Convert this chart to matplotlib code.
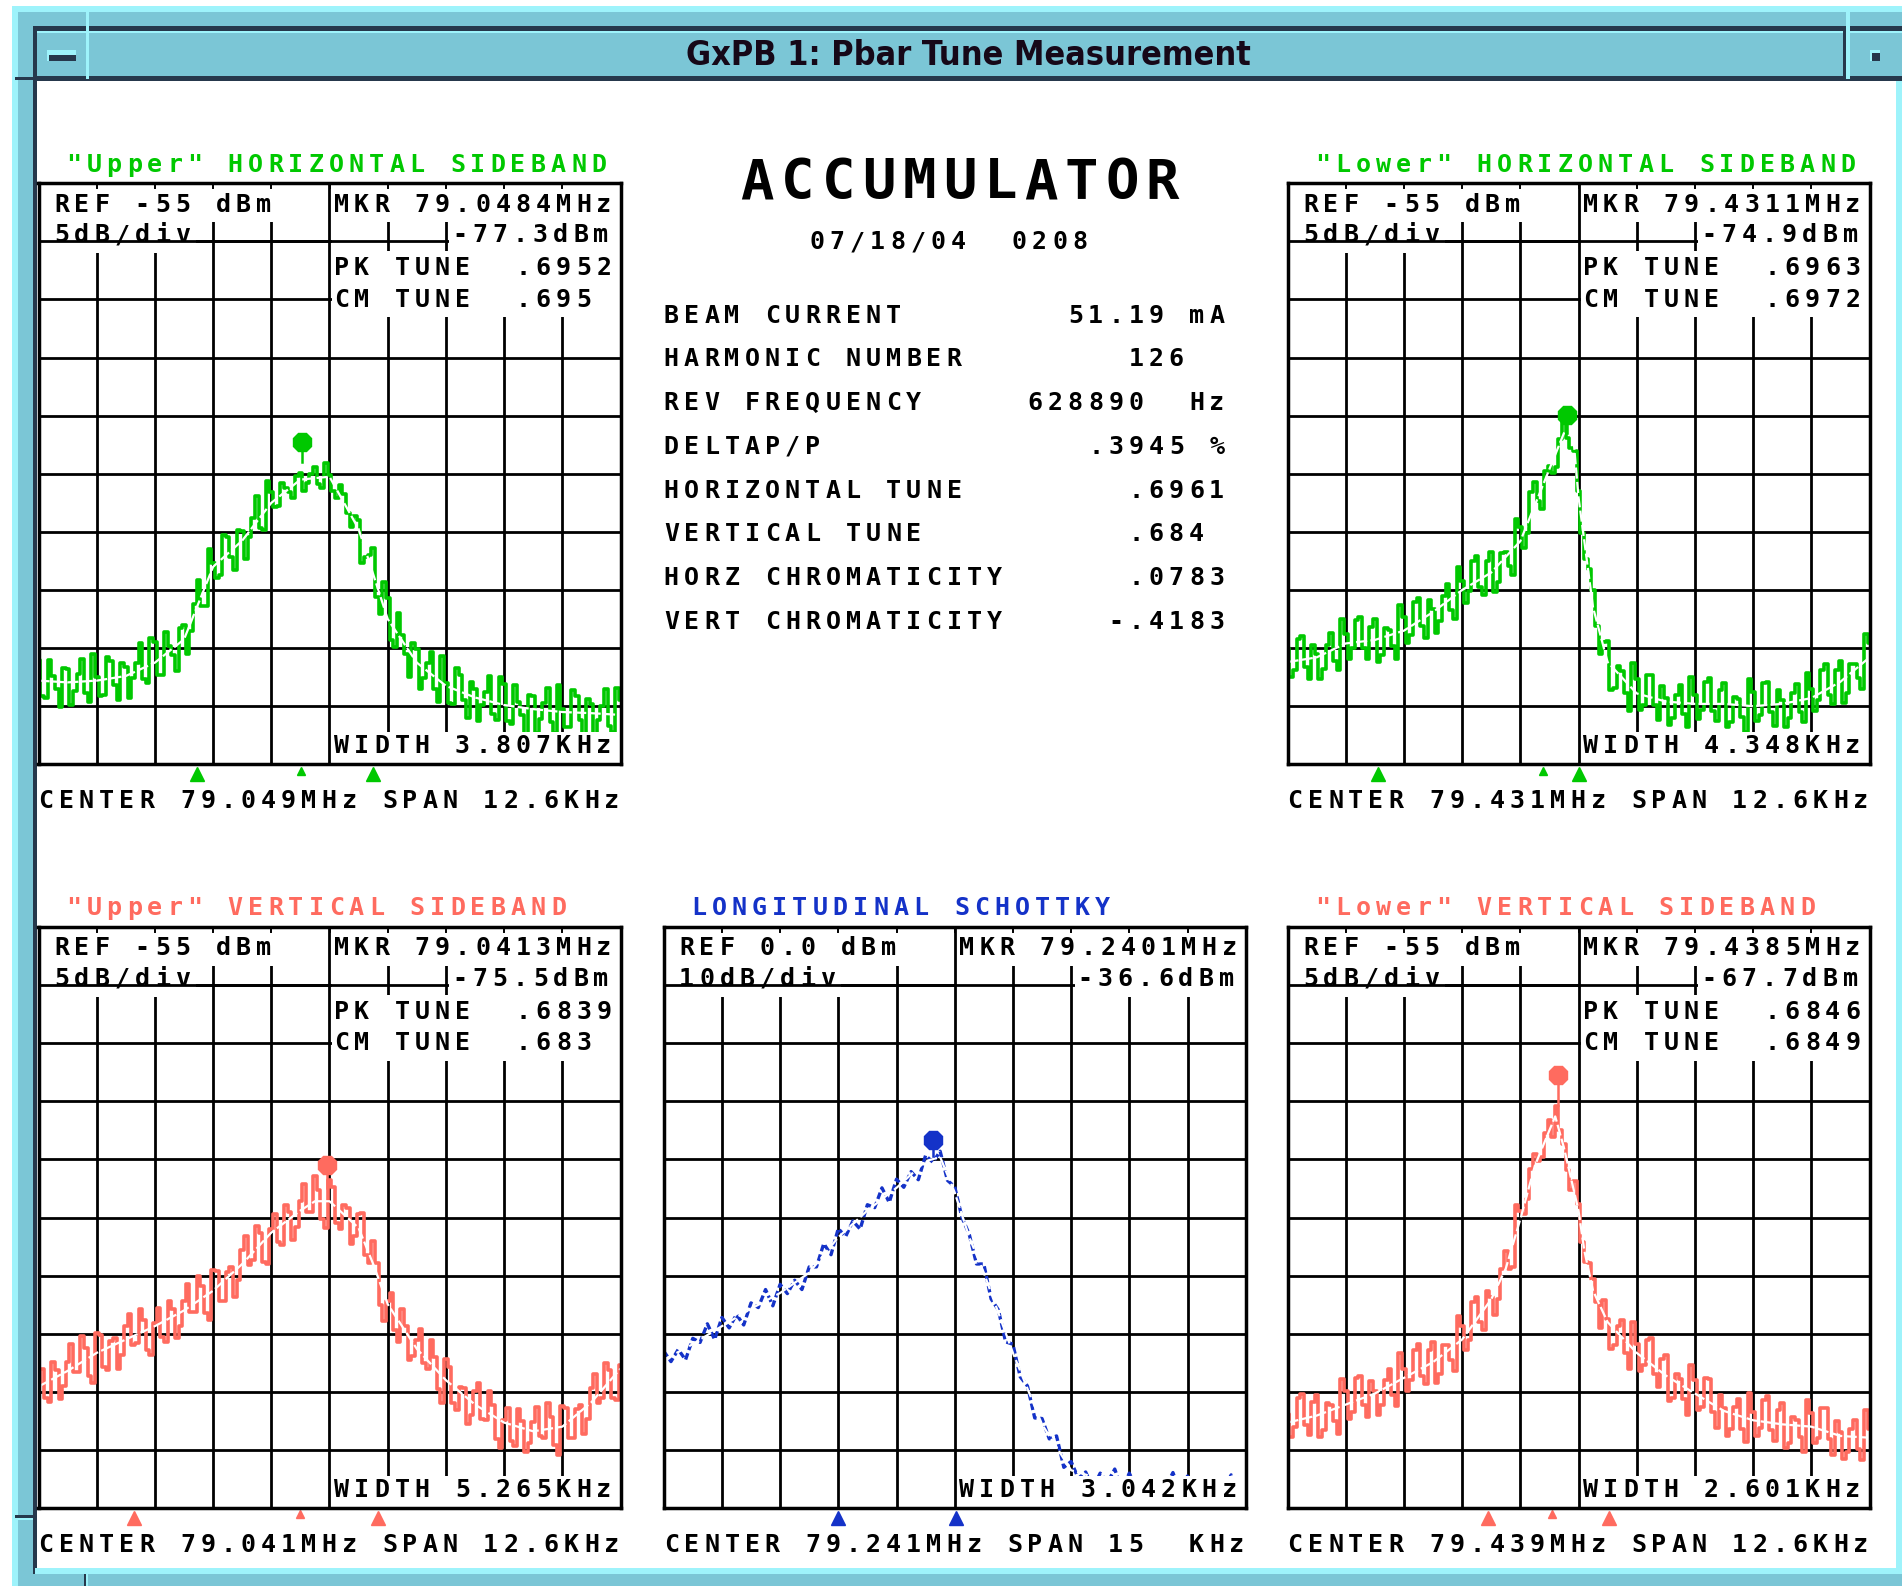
import numpy as np
import matplotlib.pyplot as plt
import matplotlib.transforms as mtransforms
from matplotlib.patches import Rectangle

W, H = 1902, 1586

# colours of the screen capture
GREEN = '#00c800'
SALMON = '#ff6b5f'
BLUE = '#1432c8'
TEAL = '#7bc6d6'
CYAN = '#9ef3fb'
NAVY = '#26384c'

# ---------------- data ----------------
names = ['uh', 'lh', 'uv', 'long', 'lv']
titles = ['"Upper" HORIZONTAL SIDEBAND', '"Lower" HORIZONTAL SIDEBAND',
          '"Upper" VERTICAL SIDEBAND', 'LONGITUDINAL SCHOTTKY',
          '"Lower" VERTICAL SIDEBAND']
colors = [GREEN, GREEN, SALMON, BLUE, SALMON]
ref_levels = [-55.0, -55.0, -55.0, 0.0, -55.0]     # dBm at top line
db_per_div = [5, 5, 5, 10, 5]
spans = [12.6, 12.6, 12.6, 15.0, 12.6]             # kHz
ref_text = ['REF -55 dBm', 'REF -55 dBm', 'REF -55 dBm', 'REF 0.0 dBm', 'REF -55 dBm']
div_text = ['5dB/div', '5dB/div', '5dB/div', '10dB/div', '5dB/div']
mkr_text = ['MKR 79.0484MHz', 'MKR 79.4311MHz', 'MKR 79.0413MHz',
            'MKR 79.2401MHz', 'MKR 79.4385MHz']
mkr_level = [-77.3, -74.9, -75.5, -36.6, -67.7]
mkr_level_text = ['-77.3dBm', '-74.9dBm', '-75.5dBm', '-36.6dBm', '-67.7dBm']
mkr_offset = [-0.6, -0.24, -0.05, -0.55, -0.45]    # kHz from centre (as drawn)
stem_bottom = [-79.0, -76.5, -77.5, -39.5, -70.3]
pk_tune = ['.6952', '.6963', '.6839', None, '.6846']
cm_tune = ['.695', '.6972', '.683', None, '.6849']
width_text = ['WIDTH 3.807KHz', 'WIDTH 4.348KHz', 'WIDTH 5.265KHz',
              'WIDTH 3.042KHz', 'WIDTH 2.601KHz']
center_text = ['CENTER 79.049MHz SPAN 12.6KHz', 'CENTER 79.431MHz SPAN 12.6KHz',
               'CENTER 79.041MHz SPAN 12.6KHz', 'CENTER 79.241MHz SPAN 15  KHz',
               'CENTER 79.439MHz SPAN 12.6KHz']
# triangles under the graticule (kHz from centre)
half_power = [[-2.87, 0.94], [-4.33, 0.02], [-4.23, 1.04], [-3.0, 0.04], [-1.95, 0.65]]
small_tri = [[-0.62], [-0.76], [-0.64], [], [-0.58]]

# raw analyzer sweeps across the span (dBm)
trace_uh = [
    -96.0, -99.1, -99.3, -96.0, -97.4, -98.5, -100.1, -96.7, -96.8, -99.9, -98.7, -97.2, -95.9, -98.9, -99.6, -95.5,
    -97.5, -99.1, -99.0, -95.8, -96.1, -98.2, -99.5, -96.3, -96.6, -99.3, -97.6, -96.3, -94.6, -97.7, -98.0, -94.1,
    -94.5, -97.3, -97.3, -93.6, -94.8, -95.6, -97.0, -93.3, -93.0, -95.5, -93.5, -91.2, -89.1, -91.4, -91.4, -86.5,
    -87.7, -89.0, -88.7, -85.3, -85.4, -87.2, -88.3, -84.8, -84.9, -87.3, -85.4, -83.8, -81.9, -84.7, -84.8, -80.6,
    -81.6, -82.9, -82.8, -80.8, -81.2, -81.6, -82.1, -80.2, -79.9, -81.5, -80.8, -80.0, -79.4, -80.9, -81.2, -79.1,
    -80.1, -81.5, -82.1, -81.0, -81.7, -83.4, -84.6, -83.6, -84.0, -87.7, -87.2, -87.0, -86.4, -90.6, -92.1, -89.3,
    -90.7, -94.3, -94.9, -92.0, -93.9, -95.5, -97.5, -94.6, -95.1, -98.5, -97.6, -96.3, -95.3, -98.5, -99.6, -95.7,
    -98.0, -99.7, -99.8, -96.7, -97.3, -99.5, -101.0, -97.9, -98.5, -101.3, -99.9, -98.8, -97.4, -100.7, -101.2, -97.5,
    -98.1, -101.3, -101.5, -98.2, -99.6, -100.8, -102.4, -99.0, -99.1, -102.3, -101.1, -99.7, -98.4, -101.4, -102.3, -98.2,
    -100.2, -101.8, -101.8, -98.6, -99.1, -101.2, -102.6, -99.4, -99.8, -102.6, -101.2, -100.0, -98.5, -101.7, -102.2, -98.4,
    -99.5]
trace_lh = [
    -95.0, -97.5, -96.9, -94.2, -94.0, -96.6, -97.7, -94.7, -95.5, -97.7, -96.8, -94.7, -93.7, -96.1, -96.9, -92.5,
    -93.8, -95.9, -95.0, -92.6, -92.3, -95.0, -95.9, -93.2, -92.5, -96.2, -95.6, -93.3, -93.4, -94.8, -95.9, -91.3,
    -92.3, -94.6, -93.9, -91.0, -90.7, -93.1, -94.1, -90.9, -91.6, -93.7, -92.7, -90.5, -89.5, -91.7, -92.5, -88.0,
    -89.2, -91.1, -90.1, -87.5, -87.1, -89.7, -90.4, -87.5, -86.7, -90.2, -89.3, -86.8, -86.7, -87.9, -88.7, -83.9,
    -84.6, -86.4, -85.1, -81.6, -80.7, -82.3, -83.0, -79.8, -79.3, -79.9, -79.4, -77.0, -75.5, -76.9, -77.8, -78.0,
    -81.5, -85.1, -87.3, -88.2, -90.0, -93.1, -95.5, -94.5, -94.4, -98.6, -98.4, -96.5, -97.0, -98.9, -100.4, -96.3,
    -97.7, -100.3, -99.9, -97.3, -97.3, -99.9, -101.2, -98.3, -99.3, -101.6, -101.0, -99.0, -98.2, -100.7, -101.8, -97.5,
    -99.0, -101.1, -100.3, -97.9, -97.6, -100.4, -101.3, -98.6, -98.0, -101.8, -101.4, -99.2, -99.4, -100.9, -102.2, -97.7,
    -98.8, -101.3, -100.8, -98.0, -97.9, -100.5, -101.7, -98.6, -99.5, -101.8, -101.0, -98.9, -98.1, -100.5, -101.4, -97.1,
    -98.5, -100.4, -99.5, -96.9, -96.4, -99.0, -99.8, -96.9, -96.1, -99.7, -98.9, -96.4, -96.4, -97.6, -98.5, -93.8,
    -94.6]
trace_uv = [
    -94.3, -93.0, -95.5, -95.9, -92.4, -93.1, -95.6, -94.5, -92.4, -90.9, -93.3, -93.3, -90.2, -91.2, -93.6, -94.2,
    -89.9, -90.1, -92.9, -93.1, -90.6, -90.4, -93.0, -91.8, -89.3, -88.3, -91.0, -90.8, -87.9, -88.8, -91.4, -91.8,
    -89.1, -87.8, -90.3, -90.7, -87.2, -87.9, -90.4, -89.3, -87.2, -85.7, -88.1, -88.1, -85.0, -85.9, -88.2, -88.8,
    -84.5, -84.6, -87.2, -87.2, -84.7, -84.3, -86.8, -85.4, -82.8, -81.6, -84.1, -83.7, -80.7, -81.3, -83.8, -84.0,
    -81.0, -79.7, -82.1, -82.4, -78.9, -79.5, -81.9, -80.8, -78.6, -77.1, -79.5, -79.5, -76.4, -77.6, -80.1, -80.9,
    -76.8, -77.4, -80.5, -81.0, -78.9, -79.2, -82.3, -81.6, -79.7, -79.6, -83.2, -83.9, -82.0, -83.9, -87.5, -88.9,
    -87.2, -86.5, -89.7, -90.7, -87.9, -89.3, -92.3, -91.9, -90.5, -89.6, -92.5, -93.0, -90.5, -92.0, -94.8, -96.0,
    -92.2, -92.9, -96.0, -96.6, -94.6, -94.7, -97.8, -97.0, -94.9, -94.2, -97.3, -97.4, -94.9, -96.1, -99.1, -99.8,
    -97.4, -96.4, -99.2, -99.7, -96.5, -97.5, -100.2, -99.4, -97.6, -96.3, -98.8, -99.0, -96.0, -97.2, -99.6, -100.4,
    -96.2, -96.4, -99.0, -99.0, -96.5, -96.1, -98.6, -97.3, -94.7, -93.5, -96.0, -95.5, -92.5, -93.1, -95.5, -95.7,
    -92.7]
trace_long = [
    -73.0, -74.8, -72.7, -74.5, -70.8, -71.5, -68.3, -71.0, -67.2, -69.0, -66.7, -68.5, -64.7, -65.5, -62.4, -65.2,
    -61.5, -63.1, -60.8, -62.4, -58.5, -58.5, -54.5, -56.4, -51.9, -53.3, -50.6, -52.0, -47.8, -48.3, -44.9, -47.4,
    -43.4, -44.8, -42.1, -43.5, -39.3, -40.5, -38.6, -43.6, -44.7, -50.0, -52.9, -58.0, -58.0, -64.0, -65.9, -71.4,
    -71.8, -77.4, -79.0, -84.5, -84.6, -88.1, -87.6, -93.0, -92.0, -94.9, -93.8, -96.6, -94.0, -95.6, -93.3, -96.9,
    -94.0, -96.6, -95.2, -97.7, -94.8, -96.4, -93.9, -97.5, -94.5, -97.1, -95.6, -98.2, -95.2, -96.8, -94.3, -97.9,
    -94.9]
trace_lv = [
    -96.9, -98.9, -98.0, -95.5, -95.2, -97.9, -98.7, -95.9, -95.3, -98.9, -98.3, -96.0, -96.1, -97.5, -98.6, -93.9,
    -94.9, -97.3, -96.7, -93.8, -93.6, -96.1, -97.2, -94.1, -94.9, -97.0, -96.1, -94.0, -93.0, -95.3, -96.2, -91.7,
    -93.0, -94.9, -94.0, -91.4, -90.9, -93.6, -94.3, -91.4, -90.7, -94.2, -93.5, -91.0, -91.0, -92.3, -93.2, -88.5,
    -89.3, -91.4, -90.5, -87.3, -86.8, -89.0, -89.7, -86.3, -86.8, -88.4, -87.0, -84.4, -82.9, -84.4, -84.3, -78.9,
    -79.4, -79.7, -78.4, -75.8, -74.5, -75.1, -74.8, -72.7, -71.6, -73.1, -70.4, -72.5, -73.7, -75.9, -77.6, -76.9,
    -78.8, -82.1, -83.8, -83.9, -85.3, -87.3, -89.5, -87.1, -88.7, -91.3, -91.0, -89.3, -88.8, -91.7, -93.0, -89.0,
    -90.9, -93.2, -92.7, -90.5, -90.4, -93.5, -94.6, -92.2, -91.8, -95.8, -95.5, -93.5, -93.9, -95.6, -97.0, -92.7,
    -94.0, -96.6, -96.3, -93.8, -93.9, -96.7, -98.1, -95.3, -96.4, -98.8, -98.2, -96.3, -95.6, -98.2, -99.3, -95.1,
    -96.7, -98.8, -98.1, -95.7, -95.4, -98.3, -99.2, -96.6, -96.0, -99.8, -99.4, -97.2, -97.4, -98.9, -100.2, -95.7,
    -96.8, -99.4, -99.0, -96.4, -96.4, -99.1, -100.4, -97.5, -98.5, -100.8, -100.2, -98.2, -97.4, -99.9, -100.9, -96.6,
    -98.2]
traces = [trace_uh, trace_lh, trace_uv, trace_long, trace_lv]

# smoothed (white) curves: kHz offsets and dBm
fit_x_uh = [-6.3, -5.67, -5.04, -4.41, -3.78, -3.15, -2.52, -1.89, -1.26, -0.63, 0, 0.63, 1.26, 1.89,
            2.52, 3.15, 3.78, 4.41, 5.04, 5.67, 6.3]
fit_y_uh = [-97.8, -97.95, -97.8, -97.4, -96.25, -94.25, -88.0, -85.75, -82.5, -80.5, -80.25, -84.75,
            -92.5, -96.25, -98.25, -99.25, -99.9, -100.25, -100.5, -100.6, -100.75]
fit_x_lh = [-6.3, -5.67, -5.04, -4.41, -3.78, -3.15, -2.52, -1.89, -1.26, -0.945, -0.63, -0.315, -0.126,
            0, 0.126, 0.315, 0.63, 1.26, 1.89, 2.52, 3.15, 3.78, 4.41, 5.04, 5.67, 6.3]
fit_y_lh = [-96.2, -95.8, -94.6, -94.3, -93.5, -91.9, -90.0, -88.5, -85.8, -82.7, -79.6, -76.5, -76.2,
            -82.0, -85.8, -91.5, -96.2, -98.9, -99.6, -99.8, -99.8, -100.0, -99.8, -99.3, -97.9, -95.8]
fit_x_uv = [-6.3, -5.67, -5.04, -4.41, -3.78, -3.15, -2.52, -1.89, -1.26, -0.63, -0.315, 0, 0.63, 0.945,
            1.26, 1.89, 2.52, 3.15, 3.78, 4.41, 5.04, 5.67, 6.3]
fit_y_uv = [-94.55, -93.2, -91.65, -90.5, -89.35, -88.0, -86.3, -84.0, -81.3, -79.4, -78.6, -78.6, -80.9,
            -84.0, -87.45, -91.3, -94.0, -96.1, -97.65, -98.4, -98.0, -95.9, -93.0]
fit_x_long = [-7.5, -6.75, -6.0, -5.25, -4.5, -3.75, -3.0, -2.25, -1.5, -0.75, -0.375, 0, 0.375, 0.75,
              1.5, 2.25, 3.0, 3.75, 4.5, 5.25, 6.0, 6.75, 7.5]
fit_y_long = [-74.5, -71.8, -68.7, -65.7, -63.0, -59.5, -53.4, -48.8, -44.9, -40.3, -39.6, -45.7, -53.4,
              -59.5, -73.3, -85.6, -93.5, -95.0, -95.5, -95.8, -96.0, -96.2, -96.4]
fit_x_lv = [-6.3, -5.67, -5.04, -4.41, -3.78, -3.15, -2.52, -1.89, -1.575, -1.26, -0.945, -0.63, -0.504,
            -0.315, 0, 0.126, 0.315, 0.63, 1.26, 1.89, 2.52, 3.15, 3.78, 4.41, 5.04, 5.67, 6.3]
fit_y_lv = [-97.65, -97.05, -96.1, -95.15, -93.8, -92.45, -90.5, -87.05, -84.4, -80.15, -75.55, -72.5,
            -71.3, -74.0, -79.4, -82.85, -86.3, -89.0, -91.65, -93.6, -95.15, -96.65, -97.45, -97.8,
            -98.0, -98.8, -98.95]
fits = [(fit_x_uh, fit_y_uh), (fit_x_lh, fit_y_lh), (fit_x_uv, fit_y_uv),
        (fit_x_long, fit_y_long), (fit_x_lv, fit_y_lv)]

info_labels = ['BEAM CURRENT', 'HARMONIC NUMBER', 'REV FREQUENCY', 'DELTAP/P',
               'HORIZONTAL TUNE', 'VERTICAL TUNE', 'HORZ CHROMATICITY', 'VERT CHROMATICITY']
info_values = ['51.19 mA', '126  ', '628890  Hz', '.3945 %', '.6961', '.684 ', '.0783', '-.4183']
date_text = '07/18/04  0208'
window_title = 'GxPB 1: Pbar Tune Measurement'

# ---------------- layout (screen pixels) ----------------
panel_pos = [(38.5, 183.3), (1287.5, 183.3), (38.5, 927.0), (663.7, 927.0), (1287.5, 927.0)]
GW, GH = 582.0, 581.0
PITCH = 20.2
FS = 18.0

fig = plt.figure(figsize=(W / 100, H / 100), dpi=100)
fig.patch.set_facecolor('white')
bg = fig.add_axes([0, 0, 1, 1])
bg.set_xlim(0, W)
bg.set_ylim(H, 0)
bg.axis('off')
px = mtransforms.Affine2D().scale(1 / W, -1 / H).translate(0, 1) + fig.transFigure


def rect(x0, y0, x1, y1, color):
    bg.add_patch(Rectangle((x0, y0), x1 - x0, y1 - y0, facecolor=color, edgecolor='none'))


def mono(x, y, s, color='black', size=FS, pitch=PITCH):
    # fixed-pitch terminal text, one cell per character
    for i, ch in enumerate(s):
        if ch != ' ':
            fig.text(x + (i + 0.5) * pitch, y, ch, transform=px, ha='center', va='baseline',
                     fontsize=size, color=color, family='DejaVu Sans Mono', fontweight='bold',
                     zorder=10)


# window frame
rect(12, 6, W, H, CYAN)
rect(18, 12, W, H, TEAL)
rect(33, 26, W, 31, NAVY)
rect(37, 31, W, 33, CYAN)
rect(33, 76, W, 81, NAVY)
rect(33, 26, 37, 1574, NAVY)
rect(37, 81, 1896, 1568, 'white')
rect(1896, 81, W, 1574, CYAN)
rect(35, 1568, W, 1574, CYAN)
rect(86, 10, 89, 79, CYAN)
rect(1846, 10, 1850, 79, CYAN)
rect(1843, 26, 1846, 81, NAVY)
rect(15, 77, 33, 80, NAVY)
rect(15, 1515, 33, 1518, NAVY)
rect(15, 1518, 33, 1520, CYAN)
rect(84, 1574, 86, H, NAVY)
rect(86, 1574, 88, H, CYAN)
rect(47, 50, 76, 61, CYAN)
rect(49, 55, 76, 61, NAVY)
rect(1870, 50, 1880, 61, CYAN)
rect(1872, 53, 1880, 61, NAVY)
fig.text(968, 65, window_title, transform=px, ha='center', va='baseline', fontsize=24.5,
         fontweight='bold', family='DejaVu Sans', fontstretch='condensed', color='#160818',
         zorder=10)

# centre block
mono(737, 198.3, 'ACCUMULATOR', size=40, pitch=40.5)
mono(807, 249.3, date_text)
for k, (lab, val) in enumerate(zip(info_labels, info_values)):
    mono(661.2, 322.7 + k * 43.7, lab + val.rjust(28 - len(lab)))

# spectrum panels
for i, name in enumerate(names):
    x0, y0 = panel_pos[i]
    c = colors[i]
    half = spans[i] / 2
    ref = ref_levels[i]
    bot = ref - 10 * db_per_div[i]

    ax = fig.add_axes([x0 / W, 1 - (y0 + GH) / H, GW / W, GH / H])
    ax.set_xlim(-half, half)
    ax.set_ylim(bot, ref)
    ax.set_xticks(np.linspace(-half, half, 11))
    ax.set_yticks(np.linspace(bot, ref, 11))
    ax.set_axisbelow(True)
    ax.grid(True, color='black', lw=2.0)
    ax.tick_params(length=0, labelbottom=False, labelleft=False)
    for sp in ax.spines.values():
        sp.set_linewidth(2.5)
        sp.set_zorder(6)

    xs = np.linspace(-half, half, len(traces[i]))
    if name == 'long':
        ax.plot(xs, traces[i], color=c, lw=2.4, ls=(0, (2.0, 1.0)), zorder=2)
    else:
        ax.plot(xs, traces[i], color=c, lw=2.6, drawstyle='steps-mid', zorder=2)
    fx, fy = fits[i]
    ax.plot(fx, fy, color='white', lw=1.6, ls=(0, (5, 1.5)), zorder=2.5)

    # peak marker with its stem
    ax.plot([mkr_offset[i], mkr_offset[i]], [mkr_level[i], stem_bottom[i]], color=c, lw=1.8, zorder=4)
    ax.plot([mkr_offset[i]], [mkr_level[i]], marker='8', ms=14, color=c, zorder=4, clip_on=False)

    # blank areas behind the annotations (graticule coordinates, y from top)
    wide = name == 'long'
    blanks = [(0, 4.97, 0, 0.67), (0, 3.05 if wide else 2.7, 0.67, 1.2),
              (5.04, 10, 0, 0.67), (7.06, 10, 0.67, 1.2 if wide else 1.17),
              (5.04, 10, 9.45, 10)]
    if pk_tune[i] is not None:
        blanks.append((5.04, 10, 1.17, 2.3))
    for bx0, bx1, by0, by1 in blanks:
        ax.add_patch(Rectangle((bx0 / 10, 1 - by1 / 10), (bx1 - bx0) / 10, (by1 - by0) / 10,
                               transform=ax.transAxes, facecolor='white', edgecolor='none', zorder=3))
    ax.plot([0, 0.5], [0.9, 0.9], transform=ax.transAxes, color='black', lw=2.0, zorder=3.5)
    for k in range(1, 10):
        ax.plot([k / 10, k / 10], [1, 0.992], transform=ax.transAxes, color='black', lw=1.4, zorder=3.5)

    # half-power and marker triangles below the graticule
    tr = mtransforms.blended_transform_factory(ax.transData, ax.transAxes)
    ax.plot(half_power[i], [-0.0165] * len(half_power[i]), ls='none', marker='^', ms=10,
            color=c, transform=tr, clip_on=False, zorder=4)
    if small_tri[i]:
        ax.plot(small_tri[i], [-0.011] * len(small_tri[i]), ls='none', marker='^', ms=5.5,
                color=c, transform=tr, clip_on=False, zorder=4)

    # annotations
    mono(x0 + 25, y0 - 11.6, titles[i], color=c)
    mono(x0 + 12.8, y0 + 28.4, ref_text[i])
    mono(x0 + 12.8, y0 + 59, div_text[i])
    mono(x0 + 292.7, y0 + 28.4, mkr_text[i])
    mono(x0 + 411, y0 + 59, mkr_level_text[i])
    if pk_tune[i] is not None:
        mono(x0 + 292.7, y0 + 91.7, 'PK TUNE  ' + pk_tune[i])
        mono(x0 + 292.7, y0 + 123.4, 'CM TUNE  ' + cm_tune[i])
    mono(x0 + 292.7, y0 + 570, width_text[i])
    mono(x0 - 2.5, y0 + 625, center_text[i])

fig.savefig('out.png', dpi=100)
